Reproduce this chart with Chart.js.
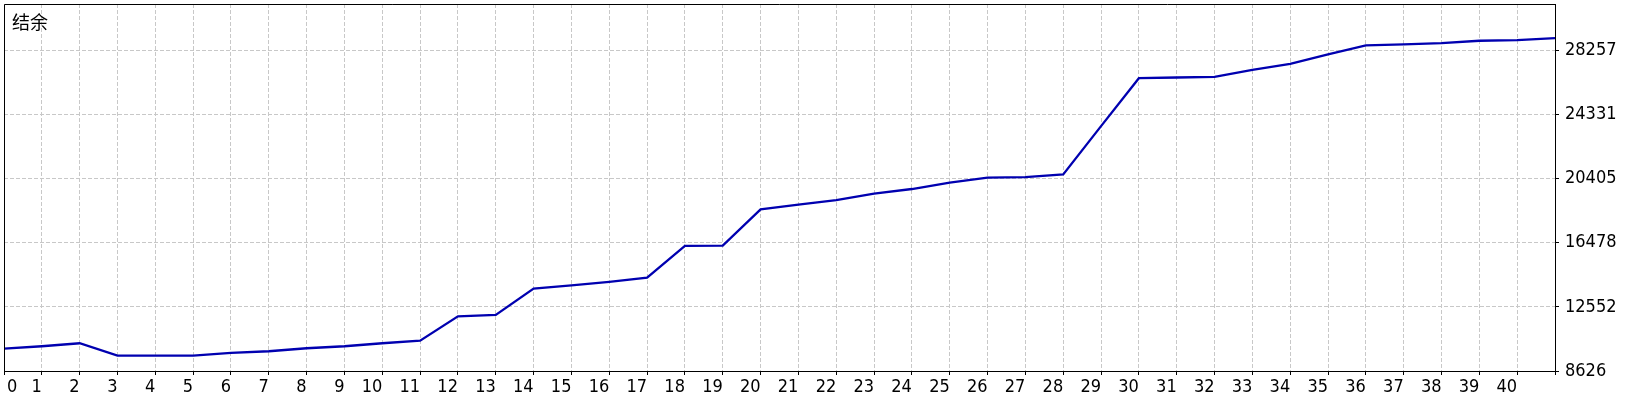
<!DOCTYPE html>
<html><head><meta charset="utf-8">
<script src="https://cdn.jsdelivr.net/npm/chart.js@4"></script>
<style>
html,body{margin:0;padding:0;background:#fff;}
#wrap{position:relative;width:1640px;height:400px;}
#title{position:absolute;left:12px;top:12px;font:18px/18px "Noto Sans CJK SC";color:#000;}
canvas{display:block}
</style></head><body>
<div id="wrap"><canvas id="c" width="1640" height="400"></canvas><div id="title"></div></div>
<script>
const titleText = '结余';
const tradeIndex = [0,1,2,3,4,5,6,7,8,9,10,11,12,13,14,15,16,17,18,19,20,21,22,23,24,25,26,27,28,29,30,31,32,33,34,35,36,37,38,39,40,41];
const balance = [9994,10141,10325,9565,9565,9570,9730,9835,10019,10141,10325,10485,11970,12062,13669,13871,14086,14350,16295,16310,18522,18810,19098,19485,19773,20160,20467,20497,20669,23626,26559,26602,26644,27074,27442,28013,28565,28626,28706,28853,28890,29013];
const yTickValues = [8626,12552,16478,20405,24331,28257];
const xTickLabels = ['0','1','2','3','4','5','6','7','8','9','10','11','12','13','14','15','16','17','18','19','20','21','22','23','24','25','26','27','28','29','30','31','32','33','34','35','36','37','38','39','40',''];
const yMin = 8626, yMax = 31105;

document.getElementById('title').textContent = titleText;

const tickFont = {family: "'DejaVu Sans Condensed', 'DejaVu Sans', sans-serif", size: 18};

const framePlugin = {
  id: 'frame',
  afterDraw(chart) {
    const {ctx, chartArea: a} = chart;
    ctx.save();
    ctx.strokeStyle = '#000';
    ctx.lineWidth = 1;
    ctx.beginPath();
    ctx.moveTo(a.left + 0.5, a.bottom);
    ctx.lineTo(a.left + 0.5, a.top + 0.5);
    ctx.lineTo(a.right, a.top + 0.5);
    ctx.stroke();
    ctx.restore();
  }
};
const zeroLabelPlugin = {
  id: 'zeroLabel',
  beforeDraw(chart) {
    const s = chart.scales.x;
    const items = s.getLabelItems(chart.chartArea);
    if (items.length) {
      items[0].options.textAlign = 'left';
      items[0].options.translation[0] += 3;
    }
  }
};

new Chart(document.getElementById('c'), {
  type: 'line',
  data: {
    datasets: [{
      data: balance.map((v, i) => ({x: tradeIndex[i], y: v})),
      borderColor: '#0000b0',
      borderWidth: 2.3,
      pointRadius: 0,
      tension: 0,
      fill: false
    }]
  },
  options: {
    responsive: false,
    animation: false,
    devicePixelRatio: 1,
    layout: {padding: {left: 4, top: 4, right: 0, bottom: 0}},
    plugins: {legend: {display: false}, tooltip: {enabled: false}, title: {display: false}},
    scales: {
      x: {
        type: 'linear',
        position: 'bottom',
        min: 0, max: 41,
        afterFit: s => { s.height = 29; s.paddingLeft = 0; s.paddingRight = 0; },
        ticks: {
          stepSize: 1, autoSkip: false, maxRotation: 0, minRotation: 0,
          align: 'end', padding: 2,
          color: '#000', font: tickFont,
          callback: (v) => xTickLabels[v] !== undefined ? xTickLabels[v] : ''
        },
        grid: {color: '#c8c8c8', lineWidth: 1, tickLength: 4, tickColor: '#000', tickBorderDash: []},
        border: {display: true, color: '#000', width: 1, dash: [4, 2]}
      },
      y: {
        type: 'linear',
        position: 'right',
        min: yMin, max: yMax,
        afterFit: s => { s.width = 85; s.paddingTop = 0; s.paddingBottom = 0; },
        afterBuildTicks: axis => { axis.ticks = yTickValues.map(v => ({value: v})); },
        ticks: {
          padding: 6, color: '#000', font: tickFont,
          callback: v => String(v)
        },
        grid: {color: '#c8c8c8', lineWidth: 1, tickLength: 4, tickColor: '#000', tickBorderDash: []},
        border: {display: true, color: '#000', width: 1, dash: [4, 2]}
      }
    }
  },
  plugins: [framePlugin, zeroLabelPlugin]
});
</script>
</body></html>
